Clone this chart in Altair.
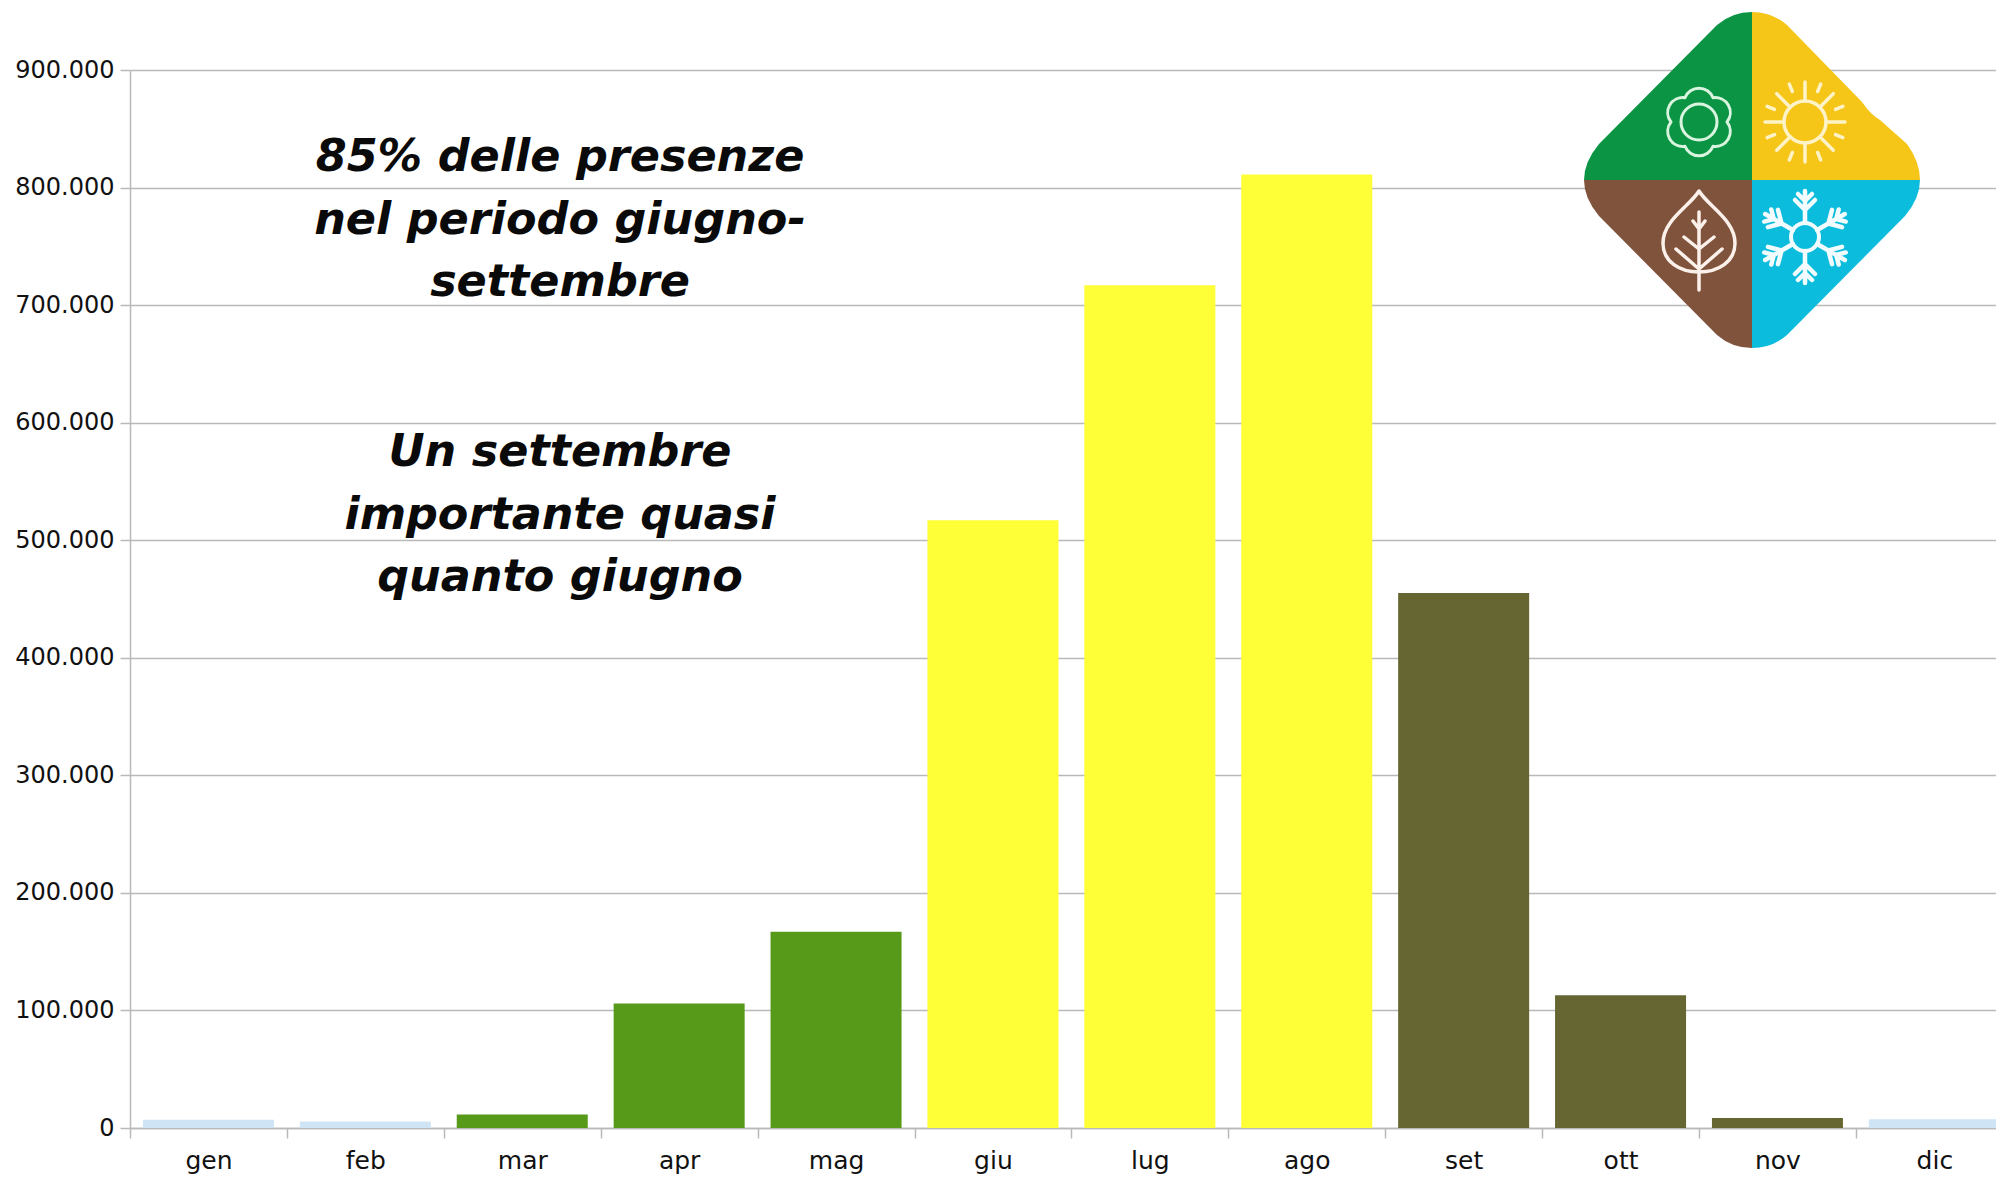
import altair as alt
import pandas as pd

months = ["gen", "feb", "mar", "apr", "mag", "giu", "lug", "ago", "set", "ott", "nov", "dic"]
values = [7000, 5500, 11500, 106000, 167000, 517000, 717000, 811000, 455000, 113000, 8500, 7500]
colors = ["#cfe5f5", "#cfe5f5", "#579a1a", "#579a1a", "#579a1a", "#ffff38", "#ffff38", "#ffff38",
          "#666633", "#666633", "#666633", "#cfe5f5"]
y_ticks = [0, 100000, 200000, 300000, 400000, 500000, 600000, 700000, 800000, 900000]
note_1 = "85% delle presenze\nnel periodo giugno-\nsettembre"
note_2 = "Un settembre\nimportante quasi\nquanto giugno"

AX = "#b9b9b9"
LABEL_FONT = "DejaVu Sans"
NOTE_FONT = "DejaVu Sans"
BAND = 156.9
PLOT_W = 1866
GAP = 0.0825

df = pd.DataFrame({"mese": months, "presenze": values, "colore": colors})
df["inizio"] = [i + GAP for i in range(len(months))]
df["fine"] = [i + 1 - GAP for i in range(len(months))]
month_list = ",".join("'" + m + "'" for m in months)

bars = alt.Chart(df).mark_bar().encode(
    x=alt.X("inizio:Q", title=None,
            scale=alt.Scale(domain=[0, PLOT_W / BAND], nice=False, zero=False),
            axis=alt.Axis(values=list(range(12)), labelExpr="[" + month_list + "][datum.value]",
                          labelOffset=BAND / 2, labelBound=False, labelOverlap=False, labelFlush=False,
                          tickSize=10, tickWidth=1.5, tickColor=AX,
                          domainColor=AX, domainWidth=1.5, labelFont=LABEL_FONT, labelFontSize=25,
                          labelColor="#111111", labelPadding=10, grid=False)),
    x2="fine:Q",
    y=alt.Y("presenze:Q", title=None, scale=alt.Scale(domain=[0, 900000], nice=False),
            axis=alt.Axis(values=y_ticks, labelExpr="replace(format(datum.value, ','), ',', '.')",
                          tickSize=10, tickWidth=1.5, tickColor=AX, domainColor=AX, domainWidth=1.5,
                          grid=True, gridColor=AX, gridWidth=1.5, labelFont=LABEL_FONT, labelFontSize=24,
                          labelColor="#111111", labelPadding=6)),
    y2=alt.datum(0),
    color=alt.Color("colore:N", scale=None),
)


def note(text, y):
    return alt.Chart(alt.Data(values=[{}])).mark_text(
        font=NOTE_FONT, fontSize=44.5, fontStyle="italic", fontWeight="bold", color="#0a0a0a",
        lineBreak="\n", lineHeight=62.5, align="center", baseline="middle",
    ).encode(x=alt.value(430), y=alt.value(y), text=alt.value(text))


# Logo centre, in plot pixels
CX, CY = 1622, 110


def fill_shape(path, colour):
    return alt.Chart(alt.Data(values=[{}])).mark_point(
        shape=path, filled=True, fill=colour, opacity=1, strokeWidth=0, size=4
    ).encode(x=alt.value(CX), y=alt.value(CY))


def rel_line_shape(path, colour, width, dx, dy, angle=0):
    return alt.Chart(alt.Data(values=[{}])).mark_point(
        shape=path, filled=False, stroke=colour, strokeWidth=width, opacity=1, size=4, angle=angle,
        strokeCap="round", strokeJoin="round",
    ).encode(x=alt.value(CX + dx), y=alt.value(CY + dy))


q_green = "M0,0L0,-168Q-20,-168 -35,-155L-153,-36Q-168,-18 -168,0Z"
q_yellow = "M0,0L0,-168Q20,-168 35,-155L110,-78Q118,-66 128,-60L155,-36Q168,-18 168,0Z"
q_brown = "M0,0L-168,0Q-168,18 -153,36L-35,155Q-20,168 0,168Z"
q_blue = "M0,0L168,0Q168,18 153,36L35,155Q20,168 0,168Z"

flower = ("M28,0A15,15 0 0 0 14,-24.2A15,15 0 0 0 -14,-24.2A15,15 0 0 0 -28,0"
          "A15,15 0 0 0 -14,24.2A15,15 0 0 0 14,24.2A15,15 0 0 0 28,0Z")
circle18 = "M18,0A18,18 0 1 0 -18,0A18,18 0 1 0 18,0Z"
circle21 = "M21,0A21,21 0 1 0 -21,0A21,21 0 1 0 21,0Z"
circle14 = "M14,0A14,14 0 1 0 -14,0A14,14 0 1 0 14,0Z"
ray_long = "M0,-21L0,-40"
ray_short = "M0,-33L0,-41"
snow_arm = "M0,-14L0,-46M0,-27L-10,-37M0,-27L10,-37M0,-36L-7,-43M0,-36L7,-43"
leaf_outline = "M0,-41C-9,-26 -36,-12 -36,11C-36,30 -19,40 0,40C19,40 36,30 36,11C36,-12 9,-26 0,-41Z"
leaf_veins = ("M0,-20L0,58M0,37L-23,17M0,37L23,17M0,17L-15,5M0,17L15,5M0,-3L-6,-11M0,-3L6,-11")

layers = [bars, note(note_1, 88), note(note_2, 383)]
layers += [fill_shape(q_green, "#0b9444"), fill_shape(q_yellow, "#f5c518"),
           fill_shape(q_brown, "#80533c"), fill_shape(q_blue, "#0cbcdc")]

layers += [rel_line_shape(flower, "#d9f5df", 3, -53, -58),
           rel_line_shape(circle18, "#d9f5df", 3, -53, -58)]

layers.append(rel_line_shape(circle21, "#fdf3c6", 3.5, 53, -58))
for a in [0, 45, 90, 135, 180, 225, 270, 315]:
    layers.append(rel_line_shape(ray_long, "#fdf3c6", 3.5, 53, -58, a))
for a in [22.5, 67.5, 112.5, 157.5, 202.5, 247.5, 292.5, 337.5]:
    layers.append(rel_line_shape(ray_short, "#fdf3c6", 3.5, 53, -58, a))

layers.append(rel_line_shape(circle14, "#f2fbfd", 4, 53, 57))
for a in [0, 60, 120, 180, 240, 300]:
    layers.append(rel_line_shape(snow_arm, "#f2fbfd", 4.5, 53, 57, a))

layers += [rel_line_shape(leaf_outline, "#fbf1ea", 3.5, -53, 52),
           rel_line_shape(leaf_veins, "#fbf1ea", 3.5, -53, 52)]

chart = alt.layer(*layers).properties(
    width=PLOT_W, height=1058,
    autosize=alt.AutoSizeParams(type="none"),
    padding={"left": 122, "top": 62, "right": 0, "bottom": 50},
    background="white",
).configure_view(strokeWidth=0)

chart.save("out.html", embed_options={"renderer": "svg", "actions": False})
